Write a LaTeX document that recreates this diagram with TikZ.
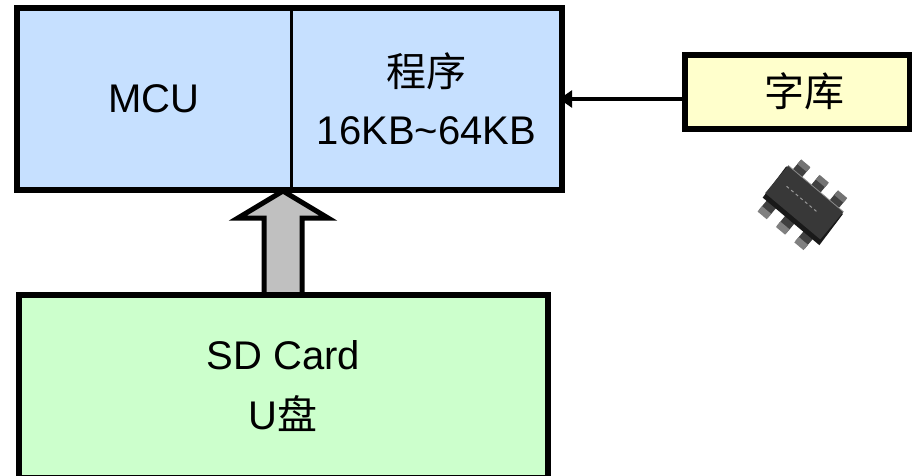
\documentclass[tikz,border=0pt]{standalone}
\usepackage{fontspec}
\setmainfont{Liberation Sans}
\newfontfamily\cjk{Noto Sans CJK SC}
\usetikzlibrary{arrows.meta}
\definecolor{mcublue}{RGB}{198,224,255}
\definecolor{sdgreen}{RGB}{204,255,204}
\definecolor{zkyellow}{RGB}{255,255,204}
\definecolor{arrgray}{RGB}{192,192,192}
\begin{document}
\begin{tikzpicture}[x=1pt,y=-1pt,
  txt/.style={font=\fontsize{40}{58}\selectfont, align=center, inner sep=0pt},
  half/.style={txt, fill=mcublue, minimum height=182pt},
  thickbox/.style={draw=black, line width=6pt},
  barrow/.style={draw=black, fill=arrgray, line width=5pt, line join=miter},
  conn/.style={draw=black, line width=4.5pt, -{Triangle[length=13pt,width=17pt]}, shorten >=-3pt}
]
\useasboundingbox (0,0) rectangle (912,475);
% block arrow (drawn first; boxes cover its ends)
\coordinate (bt) at (283,191);
\draw[barrow] (264,296) -- (264,218) -- (238,218) -- (bt) -- (328,218) -- (302,218) -- (302,296);
% MCU box
\node[half, minimum width=274pt] (mcu) at (154,99) {MCU};
\node[half, minimum width=271pt] (prog) at (426.5,99) {{\cjk 程序}\\16KB\textasciitilde64KB};
\draw[thickbox] (mcu.north west) rectangle (prog.south east);
\draw[line width=3pt] (mcu.north east) -- (mcu.south east);
% SD card box
\node[txt, thickbox, fill=sdgreen, minimum width=529.5pt, minimum height=183pt, font=\fontsize{40}{60}\selectfont] (sd) at (283.25,386.5) {SD Card\\U{\cjk 盘}};
% font library box
\node[txt, thickbox, fill=zkyellow, minimum width=225pt, minimum height=74pt] (zk) at (797.5,91.5) {\hspace*{13pt}{\cjk 字库}};
\draw[conn] (zk.west |- prog.east) -- (prog.east);
% chip picture
\begin{scope}[shift={(803,204)}, rotate=-40]
  \foreach \lx in {-24,0,24} {
    \fill[black!75] (\lx-6,-16) rectangle (\lx+6,-32);
    \fill[black!55] (\lx-6,-27) rectangle (\lx+6,-33);
    \fill[black!75] (\lx-6,16) rectangle (\lx+6,33);
    \fill[black!50] (\lx-6,28) rectangle (\lx+6,35);
  }
  \fill[black!90] (-37,-18) -- (37,-18) -- (39,21) -- (-35,21) -- cycle;
  \fill[black!78] (-36,-20) rectangle (36,16);
  \draw[black!45, line width=0.8pt] (-36,-20) -- (36,-20);
  \draw[black!40, line width=1pt, dashed] (-24,-3) -- (18,-3);
\end{scope}
\end{tikzpicture}
\end{document}
